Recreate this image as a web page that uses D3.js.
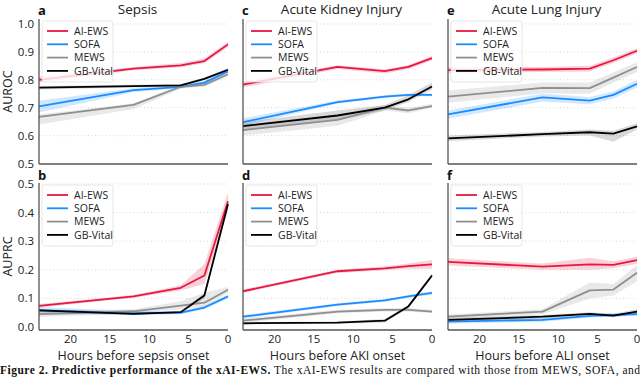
<!DOCTYPE html>
<html>
<head>
<meta charset="utf-8">
<script src="https://cdn.jsdelivr.net/npm/d3@7"></script>
<style>
  body { margin: 0; background: #fff; }
  svg { display: block; font-family: "Open Sans", sans-serif; }
</style>
</head>
<body>
<div class="viz"></div>
<script>
// hours before onset where each model was evaluated
const hours = [24, 12, 6, 3, 0];
const models = ['AI-EWS', 'SOFA', 'MEWS', 'GB-Vital'];
const colors = ['#e8173f', '#1a8cff', '#8f8f8f', '#000000'];

const xTicks = [20, 15, 10, 5, 0];
const aurocTicks = [0.5, 0.6, 0.7, 0.8, 0.9, 1.0];
const auprcTicks = [0.0, 0.1, 0.2, 0.3, 0.4, 0.5];

const titles = ['Sepsis', 'Acute Kidney Injury', 'Acute Lung Injury'];
const xLabels = ['Hours before sepsis onset', 'Hours before AKI onset', 'Hours before ALI onset'];

// rows: AI-EWS, SOFA, MEWS, GB-Vital ; columns follow `hours`
const sepsisAurocMean = [
    [0.800, 0.840, 0.852, 0.867, 0.927],
    [0.705, 0.763, 0.775, 0.790, 0.830],
    [0.667, 0.710, 0.775, 0.782, 0.820],
    [0.772, 0.777, 0.780, 0.803, 0.836]
];
const sepsisAurocLow = [
    [0.790, 0.834, 0.845, 0.859, 0.918],
    [0.683, 0.755, 0.770, 0.784, 0.825],
    [0.640, 0.695, 0.768, 0.776, 0.813],
    [0.765, 0.772, 0.776, 0.798, 0.831]
];
const sepsisAurocHigh = [
    [0.812, 0.846, 0.860, 0.876, 0.936],
    [0.725, 0.770, 0.781, 0.796, 0.836],
    [0.676, 0.716, 0.781, 0.789, 0.826],
    [0.778, 0.782, 0.785, 0.808, 0.841]
];

const sepsisAuprcMean = [
    [0.074, 0.107, 0.137, 0.180, 0.440],
    [0.058, 0.048, 0.050, 0.068, 0.107],
    [0.045, 0.055, 0.075, 0.085, 0.130],
    [0.058, 0.046, 0.052, 0.110, 0.430]
];
const sepsisAuprcLow = [
    [0.068, 0.102, 0.128, 0.150, 0.405],
    [0.045, 0.042, 0.045, 0.062, 0.100],
    [0.035, 0.048, 0.062, 0.072, 0.120],
    [0.052, 0.042, 0.048, 0.100, 0.420]
];
const sepsisAuprcHigh = [
    [0.080, 0.112, 0.146, 0.220, 0.470],
    [0.070, 0.056, 0.056, 0.074, 0.113],
    [0.055, 0.062, 0.090, 0.120, 0.140],
    [0.064, 0.050, 0.056, 0.118, 0.440]
];

const akiAurocMean = [
    [0.783, 0.846, 0.831, 0.846, 0.878],
    [0.648, 0.720, 0.740, 0.746, 0.746],
    [0.620, 0.656, 0.700, 0.690, 0.706],
    [0.634, 0.672, 0.700, 0.730, 0.776]
];
const akiAurocLow = [
    [0.772, 0.839, 0.823, 0.838, 0.870],
    [0.636, 0.714, 0.735, 0.741, 0.741],
    [0.600, 0.635, 0.690, 0.680, 0.700],
    [0.620, 0.655, 0.690, 0.720, 0.765]
];
const akiAurocHigh = [
    [0.793, 0.852, 0.838, 0.853, 0.885],
    [0.662, 0.726, 0.745, 0.751, 0.751],
    [0.640, 0.676, 0.710, 0.700, 0.714],
    [0.648, 0.690, 0.710, 0.745, 0.790]
];

const akiAuprcMean = [
    [0.125, 0.195, 0.205, 0.213, 0.219],
    [0.036, 0.078, 0.093, 0.107, 0.119],
    [0.022, 0.054, 0.060, 0.060, 0.054],
    [0.013, 0.015, 0.022, 0.072, 0.180]
];
const akiAuprcLow = [
    [0.120, 0.189, 0.198, 0.204, 0.204],
    [0.030, 0.073, 0.088, 0.102, 0.113],
    [0.014, 0.048, 0.054, 0.054, 0.049],
    [0.009, 0.011, 0.016, 0.066, 0.172]
];
const akiAuprcHigh = [
    [0.131, 0.200, 0.212, 0.222, 0.234],
    [0.042, 0.083, 0.098, 0.112, 0.125],
    [0.030, 0.060, 0.066, 0.066, 0.060],
    [0.017, 0.019, 0.028, 0.078, 0.188]
];

const aliAurocMean = [
    [0.835, 0.837, 0.840, 0.870, 0.904],
    [0.676, 0.737, 0.725, 0.746, 0.786],
    [0.740, 0.771, 0.770, 0.808, 0.846],
    [0.590, 0.605, 0.612, 0.607, 0.633]
];
const aliAurocLow = [
    [0.824, 0.828, 0.830, 0.860, 0.895],
    [0.660, 0.722, 0.712, 0.733, 0.772],
    [0.718, 0.752, 0.750, 0.790, 0.828],
    [0.580, 0.597, 0.600, 0.578, 0.622]
];
const aliAurocHigh = [
    [0.846, 0.846, 0.850, 0.880, 0.913],
    [0.690, 0.750, 0.738, 0.758, 0.800],
    [0.762, 0.790, 0.790, 0.826, 0.864],
    [0.600, 0.613, 0.622, 0.617, 0.644]
];

const aliAuprcMean = [
    [0.228, 0.211, 0.219, 0.217, 0.234],
    [0.019, 0.025, 0.039, 0.042, 0.045],
    [0.036, 0.054, 0.128, 0.131, 0.190],
    [0.025, 0.036, 0.046, 0.040, 0.054]
];
const aliAuprcLow = [
    [0.215, 0.200, 0.200, 0.205, 0.220],
    [0.012, 0.018, 0.033, 0.036, 0.039],
    [0.028, 0.045, 0.100, 0.110, 0.160],
    [0.018, 0.030, 0.040, 0.034, 0.046]
];
const aliAuprcHigh = [
    [0.240, 0.222, 0.242, 0.230, 0.246],
    [0.026, 0.032, 0.045, 0.048, 0.051],
    [0.044, 0.062, 0.156, 0.150, 0.216],
    [0.032, 0.042, 0.052, 0.046, 0.062]
];

const panels = [
    { letter: 'a', row: 0, col: 0, mean: sepsisAurocMean, low: sepsisAurocLow, high: sepsisAurocHigh },
    { letter: 'c', row: 0, col: 1, mean: akiAurocMean, low: akiAurocLow, high: akiAurocHigh },
    { letter: 'e', row: 0, col: 2, mean: aliAurocMean, low: aliAurocLow, high: aliAurocHigh },
    { letter: 'b', row: 1, col: 0, mean: sepsisAuprcMean, low: sepsisAuprcLow, high: sepsisAuprcHigh },
    { letter: 'd', row: 1, col: 1, mean: akiAuprcMean, low: akiAuprcLow, high: akiAuprcHigh },
    { letter: 'f', row: 1, col: 2, mean: aliAuprcMean, low: aliAuprcLow, high: aliAuprcHigh }
];

const W = 640, H = 377;
const colX = [39, 243, 448];
const panelW = 189;
const rows = [
    { top: 19, bottom: 164, domain: [0.5, 1.0], range: [163.5, 24], ticks: aurocTicks, label: 'AUROC' },
    { top: 183, bottom: 330, domain: [0.0, 0.5], range: [327, 184], ticks: auprcTicks, label: 'AUPRC' }
];

const svg = d3.select('.viz').append('svg')
    .attr('width', W)
    .attr('height', H);

svg.append('rect').attr('width', W).attr('height', H).attr('fill', '#fff');

panels.forEach(p => {
    const r = rows[p.row];
    const x0 = colX[p.col];
    const x = d3.scaleLinear().domain([24, 0]).range([x0, x0 + panelW]);
    const y = d3.scaleLinear().domain(r.domain).range(r.range);
    const g = svg.append('g');

    // dotted grid
    g.selectAll('.grid')
        .data(r.ticks.slice(1))
        .enter()
        .append('line')
        .attr('x1', x0).attr('x2', x0 + panelW)
        .attr('y1', d => y(d)).attr('y2', d => y(d))
        .attr('stroke', '#d4d4d4')
        .attr('stroke-width', 0.9)
        .attr('stroke-dasharray', '1,2.5');

    // bands first, then lines on top
    const area = d3.area()
        .x((d, i) => x(hours[i]))
        .y0(d => y(d[0]))
        .y1(d => y(d[1]));
    const line = d3.line()
        .x((d, i) => x(hours[i]))
        .y(d => y(d));

    models.forEach((m, k) => {
        const band = p.low[k].map((v, i) => [v, p.high[k][i]]);
        g.append('path')
            .attr('d', area(band))
            .attr('fill', colors[k])
            .attr('fill-opacity', k === 3 ? 0.15 : 0.2);
    });
    models.forEach((m, k) => {
        g.append('path')
            .attr('d', line(p.mean[k]))
            .attr('fill', 'none')
            .attr('stroke', colors[k])
            .attr('stroke-width', 1.8)
            .attr('stroke-linejoin', 'round');
    });

    // spines
    g.append('line')
        .attr('x1', x0).attr('x2', x0)
        .attr('y1', r.top).attr('y2', r.bottom)
        .attr('stroke', '#555').attr('stroke-width', 1.3);
    g.append('line')
        .attr('x1', x0).attr('x2', x0 + panelW)
        .attr('y1', r.bottom).attr('y2', r.bottom)
        .attr('stroke', '#555').attr('stroke-width', 1.3);

    // y tick labels on first column
    if (p.col === 0) {
        g.selectAll('.ytick')
            .data(r.ticks)
            .enter()
            .append('text')
            .attr('x', 34)
            .attr('y', d => y(d))
            .attr('dy', '0.35em')
            .attr('text-anchor', 'end')
            .attr('font-size', 11.5)
            .attr('fill', '#222')
            .text(d => d3.format('.1f')(d));
        svg.append('text')
            .attr('transform', `translate(12,${(r.top + r.bottom) / 2}) rotate(-90)`)
            .attr('text-anchor', 'middle')
            .attr('font-size', 12.5)
            .attr('fill', '#222')
            .text(r.label);
    }

    // x ticks on bottom row
    if (p.row === 1) {
        g.selectAll('.xtick')
            .data(xTicks)
            .enter()
            .append('text')
            .attr('x', d => x(d))
            .attr('y', 343)
            .attr('text-anchor', 'middle')
            .attr('font-size', 11.5)
            .attr('fill', '#222')
            .text(d => d);
        g.append('text')
            .attr('x', x0 + panelW / 2)
            .attr('y', 360)
            .attr('text-anchor', 'middle')
            .attr('font-size', 12.5)
            .attr('fill', '#222')
            .text(xLabels[p.col]);
    } else {
        g.append('text')
            .attr('x', x0 + panelW / 2 + 4)
            .attr('y', 14)
            .attr('text-anchor', 'middle')
            .attr('font-size', 13.5)
            .attr('fill', '#222')
            .text(titles[p.col]);
    }

    // panel letter
    g.append('text')
        .attr('x', x0 - 1)
        .attr('y', p.row === 0 ? 15 : 180)
        .attr('font-size', 13)
        .attr('font-weight', 'bold')
        .attr('fill', '#111')
        .text(p.letter);

    // legend
    const ly = r.top + 2;
    const leg = g.append('g').attr('transform', `translate(${x0 + 3},${ly})`);
    leg.append('rect')
        .attr('width', 71).attr('height', 61)
        .attr('rx', 2.5)
        .attr('fill', '#fff').attr('fill-opacity', 0.8)
        .attr('stroke', '#e0e0e0').attr('stroke-width', 0.8);
    models.forEach((m, k) => {
        const yy = 10 + k * 13.3;
        leg.append('line')
            .attr('x1', 5).attr('x2', 26)
            .attr('y1', yy).attr('y2', yy)
            .attr('stroke', colors[k]).attr('stroke-width', 1.8);
        leg.append('text')
            .attr('x', 32).attr('y', yy)
            .attr('dy', '0.35em')
            .attr('font-size', 10.5)
            .attr('fill', '#222')
            .text(m);
    });
});

// figure caption along the bottom edge
const cap = svg.append('text')
    .attr('x', 0)
    .attr('y', 374)
    .attr('font-family', '"Liberation Serif", "Times New Roman", serif')
    .attr('font-size', 11.5)
    .attr('fill', '#111')
    .attr('textLength', 640)
    .attr('lengthAdjust', 'spacing');
cap.append('tspan').attr('font-weight', 'bold').text('Figure 2.   Predictive performance of the xAI-EWS.');
cap.append('tspan').text(' The xAI-EWS results are compared with those from MEWS, SOFA, and');
</script>
</body>
</html>
